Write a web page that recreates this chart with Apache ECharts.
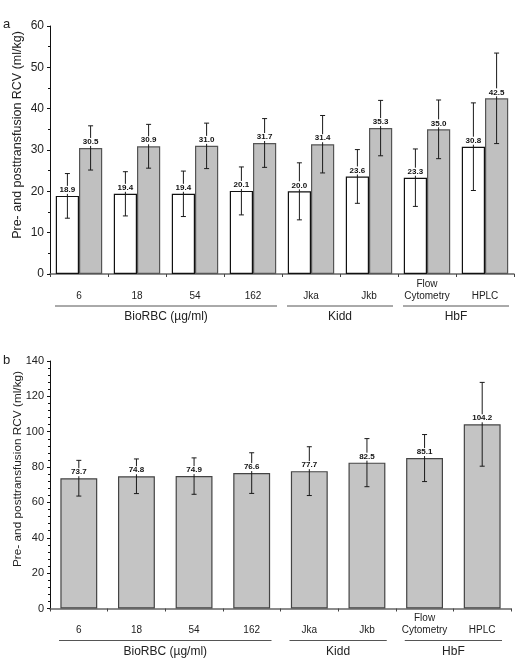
<!DOCTYPE html>
<html><head><meta charset="utf-8">
<script src="https://cdn.jsdelivr.net/npm/echarts@6/dist/echarts.min.js"></script>
<style>html,body{margin:0;padding:0;background:#fff}#c{width:526px;height:667px}</style>
</head><body><div id="c"></div>
<script>
// ---- data ----
const categories = ['6', '18', '54', '162', 'Jka', 'Jkb', 'Flow\nCytometry', 'HPLC'];
const preValues  = [18.9, 19.4, 19.4, 20.1, 20.0, 23.6, 23.3, 30.8];
const preSD      = [5.4, 5.35, 5.5, 5.8, 6.9, 6.5, 6.95, 10.6];
const postValues = [30.5, 30.9, 31.0, 31.7, 31.4, 35.3, 35.0, 42.5];
const postSD     = [5.35, 5.3, 5.5, 5.9, 6.95, 6.7, 7.1, 10.95];
const totalValues = [73.7, 74.8, 74.9, 76.6, 77.7, 82.5, 85.1, 104.2];
const totalSD     = [10.1, 9.8, 10.3, 11.5, 13.8, 13.6, 13.3, 23.7];
const groupNames = ['BioRBC (µg/ml)', 'Kidd', 'HbF'];
const groupStart = [0, 4, 6];
const groupEnd   = [3, 5, 7];
const yNameText = 'Pre- and posttransfusion RCV (ml/kg)';

const FONT = '"Liberation Sans", Arial, sans-serif';
const chart = echarts.init(document.getElementById('c'), null, {renderer: 'canvas'});

function errSeries(xi, yi, values, sds, slot, nSlots, gapFrac, fontSize) {
  return {
    type: 'custom', xAxisIndex: xi, yAxisIndex: yi, z: 5, silent: true,
    data: values.map((v, i) => [i, v, sds[i]]),
    renderItem(params, api) {
      const i = api.value(0), v = api.value(1), sd = api.value(2);
      const band = api.size([1, 0])[0];
      const inner = band * (1 - gapFrac);
      const bw = inner / nSlots;
      const c = api.coord([i, v]);
      const x = c[0] - inner / 2 + bw * (slot + 0.5);
      const yTop = api.coord([i, v + sd])[1];
      const yBot = api.coord([i, v - sd])[1];
      const st = {stroke: '#1a1a1a', lineWidth: 1};
      return {type: 'group', children: [
        {type: 'line', shape: {x1: x, y1: yTop, x2: x, y2: yBot}, style: st},
        {type: 'line', shape: {x1: x - 2.5, y1: yTop, x2: x + 2.5, y2: yTop}, style: st},
        {type: 'line', shape: {x1: x - 2.5, y1: yBot, x2: x + 2.5, y2: yBot}, style: st},
        {type: 'text', style: {text: v.toFixed(1), x: x, y: c[1] - 2, align: 'center', verticalAlign: 'bottom',
          font: 'bold ' + fontSize + 'px ' + FONT, fill: '#111', backgroundColor: '#fff', padding: [0, 1, 0, 1]}}
      ]};
    }
  };
}

function yAxisCfg(gi, max, interval, minorSplit, fs) {
  return {
    type: 'value', gridIndex: gi, min: 0, max: max, interval: interval,
    axisLine: {show: true, lineStyle: {color: '#111', width: 1}},
    axisTick: {show: true, length: 3, lineStyle: {color: '#111'}},
    minorTick: {show: true, splitNumber: minorSplit, length: 2, lineStyle: {color: '#111'}},
    splitLine: {show: false},
    axisLabel: {fontSize: fs, color: '#222', fontFamily: FONT, margin: 6}
  };
}
function xAxisCfg(gi, margin) {
  return {
    type: 'category', gridIndex: gi, data: categories,
    axisLine: {show: true, lineStyle: {color: '#666', width: 1.5}},
    axisTick: {show: true, length: 3, lineStyle: {color: '#444'}},
    axisLabel: {fontSize: 10, color: '#222', fontFamily: FONT, margin: margin, verticalAlign: 'bottom', lineHeight: 12, interval: 0}
  };
}

chart.setOption({
  animation: false,
  backgroundColor: '#fff',
  grid: [
    {left: 50, right: 12, top: 26, height: 248},
    {left: 50, right: 15, top: 361, height: 247.5}
  ],
  xAxis: [xAxisCfg(0, 28), xAxisCfg(1, 28)],
  yAxis: [yAxisCfg(0, 60, 10, 2, 12), yAxisCfg(1, 140, 20, 5, 11)],
  series: [
    {type: 'bar', xAxisIndex: 0, yAxisIndex: 0, data: preValues, barGap: '0%', barCategoryGap: '20%',
      itemStyle: {color: '#ffffff', borderColor: '#111', borderWidth: 1.2}},
    {type: 'bar', xAxisIndex: 0, yAxisIndex: 0, data: postValues, barGap: '0%', barCategoryGap: '20%',
      itemStyle: {color: '#c0c0c0', borderColor: '#555', borderWidth: 1.2}},
    {type: 'bar', xAxisIndex: 1, yAxisIndex: 1, data: totalValues, barCategoryGap: '36%',
      itemStyle: {color: '#c4c4c4', borderColor: '#444', borderWidth: 1.2}},
    errSeries(0, 0, preValues, preSD, 0, 2, 0.2, 8),
    errSeries(0, 0, postValues, postSD, 1, 2, 0.2, 8),
    errSeries(1, 1, totalValues, totalSD, 0, 1, 0.36, 8)
  ]
});

// annotations: panel letters, y-axis names, group brackets
const graphics = [];
graphics.push({type: 'text', style: {text: 'a', x: 3, y: 24, verticalAlign: 'middle', font: '13px ' + FONT, fill: '#222'}});
graphics.push({type: 'text', style: {text: 'b', x: 3, y: 360, verticalAlign: 'middle', font: '13px ' + FONT, fill: '#222'}});
const yNameCfg = [[18, 135, 12.5], [18, 469, 11.8]];
yNameCfg.forEach(c => {
  graphics.push({type: 'text', x: c[0], y: c[1], rotation: Math.PI / 2,
    style: {text: yNameText, x: 0, y: 0, align: 'center', verticalAlign: 'middle', font: c[2] + 'px ' + FONT, fill: '#222'}});
});
[0, 1].forEach(gi => {
  const y0 = chart.convertToPixel({yAxisIndex: gi}, 0);
  const c0 = chart.convertToPixel({xAxisIndex: gi}, 0);
  const c1 = chart.convertToPixel({xAxisIndex: gi}, 1);
  const band = c1 - c0;
  const inset = gi === 0 ? 5 : 9;
  groupNames.forEach((g, k) => {
    const xl = chart.convertToPixel({xAxisIndex: gi}, groupStart[k]) - band / 2 + inset;
    const xr = chart.convertToPixel({xAxisIndex: gi}, groupEnd[k]) + band / 2 - inset;
    graphics.push({type: 'line', shape: {x1: xl, y1: y0 + 32, x2: xr, y2: y0 + 32}, style: {stroke: '#555', lineWidth: 1}});
    graphics.push({type: 'text', style: {text: g, x: (xl + xr) / 2, y: y0 + 43, align: 'center', verticalAlign: 'middle', font: '12px ' + FONT, fill: '#222'}});
  });
});
chart.setOption({graphic: graphics});
</script>
</body></html>
